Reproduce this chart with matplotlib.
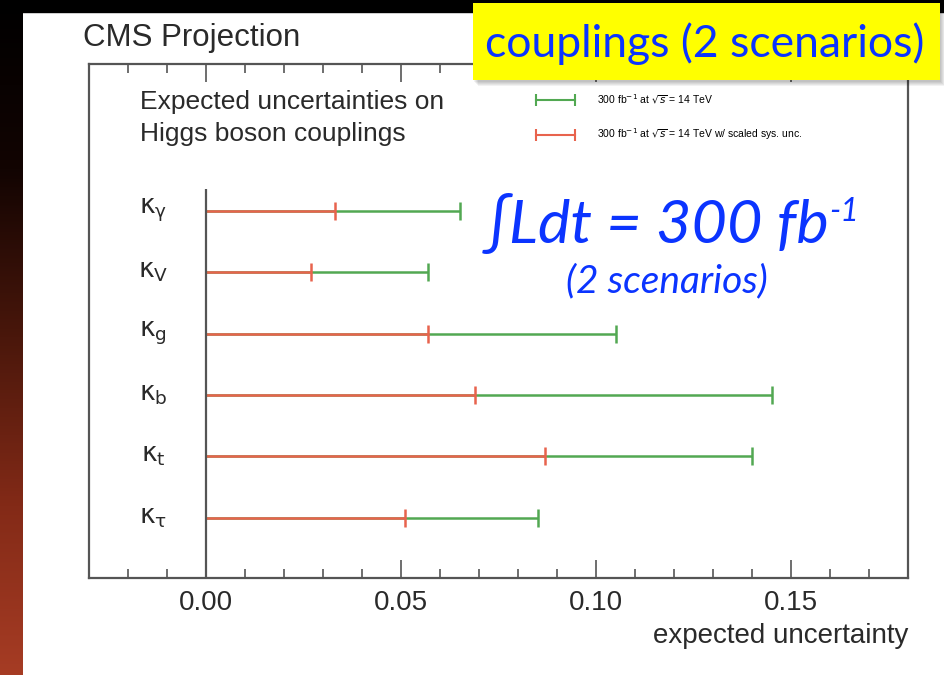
import numpy as np
import matplotlib
matplotlib.use("Agg")
import matplotlib.pyplot as plt
from matplotlib.lines import Line2D
from matplotlib.patches import Rectangle
from matplotlib.ticker import MultipleLocator
from matplotlib.colors import LinearSegmentedColormap

# data (top row first)
couplings = [r"$\mathrm{\kappa_{\gamma}}$", r"$\mathrm{\kappa_{V}}$",
             r"$\mathrm{\kappa_{g}}$", r"$\mathrm{\kappa_{b}}$",
             r"$\mathrm{\kappa_{t}}$", r"$\mathrm{\kappa_{\tau}}$"]
unc_300 = [0.065, 0.057, 0.105, 0.145, 0.140, 0.085]
unc_300_scaled = [0.033, 0.027, 0.057, 0.069, 0.087, 0.051]
legend_labels = [r"300 fb$^{-1}$ at $\sqrt{s}$ = 14 TeV",
                 r"300 fb$^{-1}$ at $\sqrt{s}$ = 14 TeV w/ scaled sys. unc."]
xticks = [0.00, 0.05, 0.10, 0.15]

W, H = 944, 675
GREEN = "#52a852"
RED = "#e8634d"
FRAME = "#555555"
INK = "#2a2a2a"
BLUE = "#0b34ff"

plt.rcParams.update({
    "font.family": ["Liberation Sans", "DejaVu Sans"],
    "mathtext.fontset": "dejavusans",
})

fig = plt.figure(figsize=(W / 100, H / 100), dpi=100)
fig.patch.set_facecolor("white")

# slide background: black strip on top, dark -> red gradient on the left
bg = fig.add_axes([0, 0, 1, 1], zorder=-5)
cmap = LinearSegmentedColormap.from_list(
    "slide", ["#000000", "#120402", "#4a170b", "#832a17", "#a63c24"])
bg.imshow(np.linspace(0, 1, 256)[:, None], cmap=cmap,
          extent=(0, 23, H, 0), aspect="auto")
bg.add_patch(Rectangle((0, 0), W, 12, color="black"))
bg.set_xlim(0, W)
bg.set_ylim(H, 0)
bg.axis("off")

# the plot itself
ax = fig.add_axes([89 / W, 1 - 578 / H, 819 / W, 514 / H])
y = np.arange(len(couplings))
ax.hlines(y, 0, unc_300, color=GREEN, lw=1.8)
ax.plot(unc_300, y, ls="none", marker="|", ms=13, mew=1.8, color=GREEN)
ax.hlines(y, 0, unc_300_scaled, color=RED, lw=1.8)
ax.plot(unc_300_scaled, y, ls="none", marker="|", ms=13, mew=1.8, color=RED)
ax.vlines(0, -0.35, 6.0, color=FRAME, lw=1.6)

ax.set_xlim(-0.03, 0.18)
ax.set_ylim(5.98, -2.39)
ax.set_yticks([])
ax.set_xticks(xticks)
ax.set_xticklabels([f"{t:.2f}" for t in xticks])
ax.xaxis.set_minor_locator(MultipleLocator(0.01))
ax.tick_params(axis="x", which="both", direction="in", top=True,
               colors=FRAME, labelcolor=INK, labelsize=20, pad=9)
ax.tick_params(axis="x", which="major", length=13, width=1.2)
ax.tick_params(axis="x", which="minor", length=6.5, width=1.2)
for s in ax.spines.values():
    s.set_color(FRAME)
    s.set_linewidth(1.6)
for yi, lab in zip(y, couplings):
    ax.text(-0.0135, yi, lab, ha="center", va="center", fontsize=19, color=INK)
ax.set_xlabel("expected uncertainty", ha="right", x=1.0, fontsize=20,
              color=INK, labelpad=5)

# overlay in pixel coordinates for slide texts
ov = fig.add_axes([0, 0, 1, 1], zorder=10)
ov.set_xlim(0, W)
ov.set_ylim(H, 0)
ov.axis("off")

ov.text(83, 38, "CMS Projection", fontsize=22.5, color=INK, va="center")
ov.text(140, 102, "Expected uncertainties on", fontsize=19, color=INK, va="center")
ov.text(140, 134, "Higgs boson couplings", fontsize=19, color=INK, va="center")

handles = [Line2D([], [], color=GREEN, lw=1.5, marker="|", ms=9, mew=1.5),
           Line2D([], [], color=RED, lw=1.5, marker="|", ms=9, mew=1.5)]
ov.legend(handles, legend_labels, loc="upper left",
          bbox_to_anchor=(533, 92), bbox_transform=ov.transData,
          frameon=False, fontsize=7.5, numpoints=2, handlelength=4.3,
          handletextpad=1.8, labelspacing=2.0, borderpad=0, borderaxespad=0)

t = ov.text(485, 224, "\u222bLdt = 300 fb", fontsize=44, style="italic",
            color=BLUE, family=["Lato", "DejaVu Sans"], va="center")
ov.annotate("-1", xy=(1, 0.95), xycoords=t, fontsize=23, style="italic",
            color=BLUE, family=["Lato", "DejaVu Sans"], va="top", ha="left")
ov.text(667, 281, "(2 scenarios)", fontsize=28, style="italic", color=BLUE,
        family=["Lato", "DejaVu Sans"], ha="center", va="center")

# yellow title box with a soft shadow
for k in range(5):
    ov.add_patch(Rectangle((473 + 1 + k, 3 + 2 + k), 467, 77,
                           fc="black", alpha=0.05, ec="none", zorder=2))
ov.add_patch(Rectangle((473, 3), 467, 77, fc="#ffff00", ec="none", zorder=3))
ov.text(705, 44, "couplings (2 scenarios)", fontsize=32, color=BLUE,
        family=["Lato", "DejaVu Sans"], ha="center", va="center", zorder=4)

fig.savefig("out.png", dpi=100)
